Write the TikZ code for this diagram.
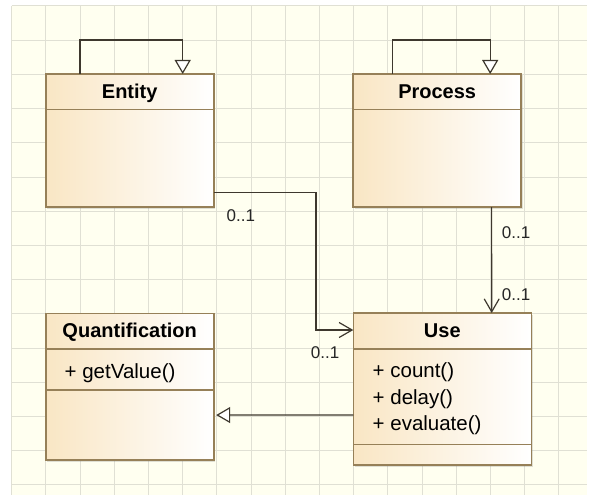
\documentclass[tikz,border=0pt]{standalone}
\usepackage{fontspec}
\setmainfont{Liberation Sans}
\usetikzlibrary{arrows.meta,calc,shadows}
\definecolor{bgcream}{RGB}{255,255,240}
\definecolor{gridcol}{RGB}{224,224,212}
\definecolor{boxborder}{RGB}{150,128,88}
\definecolor{boxtan}{RGB}{249,230,196}
\definecolor{linecol}{RGB}{62,56,46}
\tikzset{
  umlbox/.style={draw=boxborder, line width=1.6pt, inner sep=0pt, outer sep=0pt,
    left color=boxtan, right color=white,
    drop shadow={shadow xshift=1.5pt, shadow yshift=-1.5pt, opacity=0.25, fill=gray}},
  divider/.style={draw=boxborder, line width=1.6pt},
  headtxt/.style={font=\fontsize{20}{22}\selectfont\bfseries, anchor=base, inner sep=0pt},
  optxt/.style={font=\fontsize{20.5}{23}\selectfont, anchor=base west, inner sep=0pt},
  multxt/.style={font=\fontsize{17}{19}\selectfont, anchor=base west, inner sep=0pt, text=black!85},
  conn/.style={draw=linecol, line width=1.2pt},
  genarrow/.style={conn, -{Triangle[open, length=14pt, width=16pt, fill=white]}},
  navarrow/.style={conn, -{Straight Barb[length=13pt, width=15pt]}}
}
\begin{document}
\begin{tikzpicture}[x=1pt, y=-1pt]
\useasboundingbox (0,0) rectangle (589,495);
\fill[white] (0,0) rectangle (589,495);
% background grid
\fill[bgcream] (11.7,6) rectangle (587,495);
\foreach \k in {0,...,16} {\draw[gridcol, line width=1pt] ({11.7+34.2*\k},6) -- ({11.7+34.2*\k},495);}
\foreach \k in {0,...,14} {\draw[gridcol, line width=1pt] (11.7,{6+34.2*\k}) -- (587,{6+34.2*\k});}

% boxes
\node[umlbox, minimum width=168pt, minimum height=133pt] (entity) at (129.7,140.5) {};
\node[umlbox, minimum width=168pt, minimum height=133pt] (process) at (437.2,140.5) {};
\node[umlbox, minimum width=168pt, minimum height=146.7pt] (quant) at (129.7,386.7) {};
\node[umlbox, minimum width=178pt, minimum height=152pt] (use) at (442.3,389) {};

% dividers
\draw[divider] ($(entity.north west)+(0,35.3)$) -- ($(entity.north east)+(0,35.3)$);
\draw[divider] ($(process.north west)+(0,35.3)$) -- ($(process.north east)+(0,35.3)$);
\draw[divider] ($(quant.north west)+(0,35.7)$) -- ($(quant.north east)+(0,35.7)$);
\draw[divider] ($(quant.north west)+(0,76.7)$) -- ($(quant.north east)+(0,76.7)$);
\draw[divider] ($(use.north west)+(0,36)$) -- ($(use.north east)+(0,36)$);
\draw[divider] ($(use.north west)+(0,131.3)$) -- ($(use.north east)+(0,131.3)$);

% texts
\node[headtxt] (entityname) at (129.7,99) {Entity};
\node[headtxt] (processname) at (437.2,99) {Process};
\node[headtxt] (quantname) at (129.7,337) {Quantification};
\node[headtxt] (usename) at (442.3,337) {Use};
\node[optxt] (getvalue) at (64.5,378) {+ getValue()};
\node[optxt] (count) at (372.5,377.5) {+ count()};
\node[optxt] (delay) at (372.5,404) {+ delay()};
\node[optxt] (evaluate) at (372.5,430.5) {+ evaluate()};

% self loops
\draw[genarrow] ($(entity.north west)+(34.3,0)$) |- ($(entity.north west)+(137,-34)$) -- ($(entity.north west)+(137,0)$);
\draw[genarrow] ($(process.north west)+(39.4,0)$) |- ($(process.north west)+(137,-34)$) -- ($(process.north west)+(137,0)$);

% associations
\coordinate (bend) at (316,192.7);
\draw[navarrow] ($(entity.north east)+(0,118.7)$) -- (bend) |- ($(use.north west)+(0,17)$);
\draw[navarrow] ($(process.south west)+(138.4,0)$) -- ($(use.north west)+(138.4,0)$);
\node[multxt] (m1) at (226.5,221.5) {0..1};
\node[multxt] (m2) at (310.7,358.3) {0..1};
\node[multxt] (m3) at (501.7,238.3) {0..1};
\node[multxt] (m4) at (501.7,300) {0..1};

% generalization
\draw[genarrow, shorten >=2.5pt] ($(use.north west)+(0,102)$) -- ($(quant.north east)+(0,101.7)$);
\end{tikzpicture}
\end{document}
